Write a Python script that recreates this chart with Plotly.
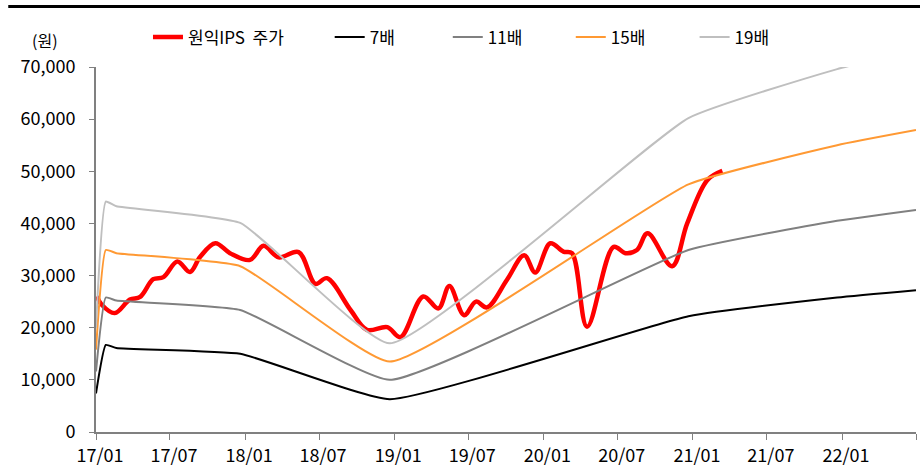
import plotly.graph_objects as go

# ---- price (원익IPS 주가) ----
price_dates = [
    "2017-01-03", "2017-01-15", "2017-02-16", "2017-03-25", "2017-04-19", "2017-05-21",
    "2017-06-15", "2017-07-19", "2017-08-19", "2017-09-13", "2017-10-20", "2017-11-25",
    "2018-01-13", "2018-02-15", "2018-03-24", "2018-05-12", "2018-06-22", "2018-07-20",
    "2018-09-16", "2018-10-26", "2018-12-15", "2019-01-16", "2019-03-13", "2019-04-19",
    "2019-05-16", "2019-06-21", "2019-07-20", "2019-08-16", "2019-10-04", "2019-11-15",
    "2019-12-12", "2020-01-18", "2020-02-19", "2020-03-11", "2020-04-17", "2020-06-21",
    "2020-07-20", "2020-08-17", "2020-09-12", "2020-11-11", "2020-12-18", "2021-02-05",
    "2021-03-14",
]
price_values = [
    26000, 24400, 22800, 25400, 25900, 29300,
    29700, 32700, 30700, 33600, 36200, 34300,
    33000, 35700, 33500, 34500, 28400, 29500,
    23400, 19600, 20100, 18200, 26000, 23700,
    28000, 22400, 25000, 23900, 29200, 33900,
    30600, 36200, 34600, 34300, 20200, 35500,
    34300, 34900, 38100, 31800, 40000, 48300,
    50100,
]

# ---- PER band lines ----
band_dates = ["2017-01-01", "2017-01-25", "2017-02-20", "2017-12-20",
              "2018-12-21", "2020-12-21", "2021-12-20", "2022-07-01"]
band_7x = [7400, 16700, 16100, 15000, 6300, 22200, 25800, 27200]
band_11x = [11600, 25800, 25200, 23400, 10000, 34900, 40500, 42600]
band_15x = [15800, 34900, 34300, 31800, 13500, 47500, 55000, 57900]
band_19x = [20000, 44200, 43300, 40100, 17000, 60200, 69600, 73300]

series_names = ["원익IPS  주가", "7배", "11배", "15배", "19배"]
y_ticks = [0, 10000, 20000, 30000, 40000, 50000, 60000, 70000]

FONT = "Noto Sans CJK KR"
legend_x = [0.0634, 0.285, 0.429, 0.579, 0.730]
legend_ids = ["legend", "legend2", "legend3", "legend4", "legend5"]

fig = go.Figure()
fig.add_trace(go.Scatter(x=price_dates, y=price_values, name=series_names[0], mode="lines",
                         legend=legend_ids[0],
                         line=dict(color="#FF0000", width=4.5, shape="spline", smoothing=1.0)))
band_colors = ["#000000", "#808080", "#FF9933", "#BFBFBF"]
for i, (nm, vals, col) in enumerate(zip(series_names[1:], [band_7x, band_11x, band_15x, band_19x], band_colors)):
    fig.add_trace(go.Scatter(x=band_dates, y=vals, name=nm, mode="lines",
                             legend=legend_ids[i + 1],
                             line=dict(color=col, width=2, shape="spline", smoothing=0.4)))

legend_layout = {}
for lid, lx in zip(legend_ids, legend_x):
    legend_layout[lid] = dict(x=lx, y=1.13, xanchor="left", yanchor="top",
                              orientation="h", bgcolor="rgba(0,0,0,0)",
                              font=dict(family=FONT, size=17, color="#000000"))

fig.update_layout(
    width=920, height=475,
    margin=dict(l=96, r=4, t=67, b=43),
    paper_bgcolor="white", plot_bgcolor="white",
    font=dict(family=FONT, size=17, color="#000000"),
    showlegend=True,
    xaxis=dict(type="date", range=["2017-01-01", "2022-07-01"],
               tick0="2017-01-01", dtick="M6", tickformat="%y/%m",
               showgrid=False, zeroline=False,
               showline=True, linecolor="#808080", linewidth=2,
               ticks="outside", ticklen=6, tickcolor="#808080", tickwidth=1,
               ticklabelshift=4,
               tickfont=dict(family=FONT, size=18)),
    yaxis=dict(range=[0, 70000], tickvals=y_ticks, tickformat=",d",
               showgrid=False, zeroline=False,
               showline=True, linecolor="#808080", linewidth=2,
               ticks="outside", ticklen=5, tickcolor="#808080", tickwidth=1,
               ticklabelstandoff=10,
               tickfont=dict(family=FONT, size=18)),
    shapes=[dict(type="line", xref="paper", yref="paper",
                 x0=-0.107, x1=1.006, y0=1.166, y1=1.166,
                 line=dict(color="#000000", width=3))],
    annotations=[dict(text="(원)", xref="paper", yref="paper", x=-0.062, y=1.074,
                      xanchor="center", yanchor="middle", showarrow=False,
                      font=dict(family=FONT, size=16))],
    **legend_layout,
)

fig.write_html("out.html", config={"displayModeBar": False},
               post_script="document.body.style.margin='0px';")
